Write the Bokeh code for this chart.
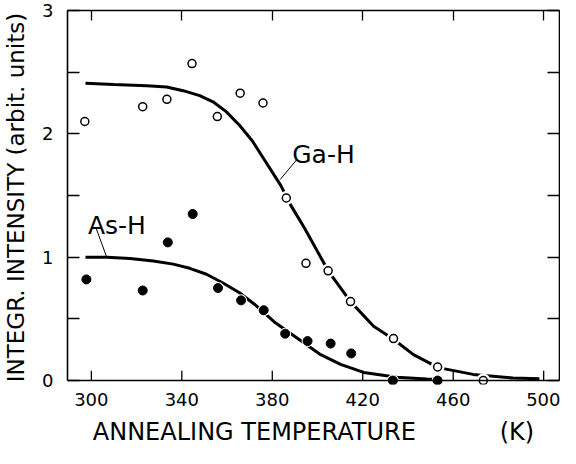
from bokeh.plotting import figure
from bokeh.models import LinearAxis, FixedTicker, Range1d, Label, Span
from bokeh.embed import file_html
from bokeh.resources import INLINE

FONT = "DejaVu Sans"

# ---- data ----
x_ticks = [300, 340, 380, 420, 460, 500]
y_ticks = [0, 1, 2, 3]
y_minor_ticks = [0.5, 1.5, 2.5]

ga_T = [297.1, 322.7, 333.4, 344.5, 355.7, 365.8, 375.9, 386.2, 394.9, 404.7, 414.6, 433.6, 453.1, 473.3]
ga_I = [2.10, 2.22, 2.28, 2.57, 2.14, 2.33, 2.25, 1.48, 0.95, 0.89, 0.64, 0.34, 0.11, 0.0]

as_T = [297.8, 322.7, 333.8, 344.8, 356.0, 366.2, 376.2, 385.7, 395.6, 405.8, 414.9, 433.3, 453.1]
as_I = [0.82, 0.73, 1.12, 1.35, 0.75, 0.65, 0.57, 0.38, 0.32, 0.30, 0.22, 0.0, 0.0]

ga_fit_T = [297.4, 309.8, 324.5, 333.3, 340.6, 347.9, 353.8, 359.6, 365.5, 371.3, 377.2, 383.8,
            388.2, 394.1, 401.4, 404.7, 414.6, 424.8, 433.6, 442.4, 453.4, 468.8, 486.4, 498.1]
ga_fit_I = [2.41, 2.40, 2.39, 2.38, 2.35, 2.31, 2.26, 2.18, 2.07, 1.94, 1.77, 1.58,
            1.42, 1.24, 1.00, 0.89, 0.64, 0.44, 0.335, 0.21, 0.105, 0.05, 0.02, 0.015]

as_fit_T = [297.4, 306.9, 317.1, 327.4, 336.2, 343.5, 350.9, 358.2, 365.5, 372.1, 380.9,
            391.1, 401.4, 410.2, 420.4, 435.1, 448.3, 454.2]
as_fit_I = [1.0, 1.0, 0.99, 0.97, 0.944, 0.91, 0.862, 0.791, 0.712, 0.619, 0.475,
            0.343, 0.210, 0.131, 0.066, 0.026, 0.013, 0.008]

label_text = ["Ga-H", "As-H"]
label_x = [388.8, 298.5]
label_y = [1.83, 1.26]
leader_x0 = [390.8, 302.2]
leader_y0 = [1.79, 1.23]
leader_x1 = [383.5, 306.6]
leader_y1 = [1.63, 1.01]

# the wide gap before "(K)" is kept with non-breaking spaces
x_title = "ANNEALING TEMPERATURE " + "\u00a0" * 10 + "(K)"
y_title = "INTEGR. INTENSITY (arbit. units)"

# ---- figure ----
p = figure(width=560, height=448,
           x_range=Range1d(289.45, 507.0), y_range=Range1d(-0.032, 3.0),
           output_backend="svg", toolbar_location=None)
p.min_border_left = 64
p.min_border_right = 1
p.min_border_top = 10
p.min_border_bottom = 61
p.outline_line_color = None
p.xgrid.visible = False
p.ygrid.visible = False
p.background_fill_color = "white"
p.border_fill_color = "white"

LW = 1.6
TICK_LEN_X = 0.08   # x-tick length in data units of the y axis (~10 px)

def blank_labels(ax, ticks):
    ax.major_label_overrides = {t: "" for t in ticks}
    ax.major_label_text_color = None
    ax.major_label_standoff = 0

# bottom axis: labels and title only (line and ticks drawn at y = 0 below)
xb = p.xaxis[0]
xb.ticker = FixedTicker(ticks=x_ticks)
xb.axis_line_color = None
xb.major_tick_line_color = None
xb.minor_tick_line_color = None
xb.major_tick_in = 0
xb.major_tick_out = 0
xb.major_label_text_font = FONT
xb.major_label_text_font_size = "18px"
xb.major_label_text_color = "black"
xb.major_label_standoff = 8
xb.axis_label = x_title
xb.axis_label_text_font = FONT
xb.axis_label_text_font_size = "24px"
xb.axis_label_text_font_style = "normal"
xb.axis_label_text_color = "black"
xb.axis_label_standoff = 9

def style_y(ax):
    ax.ticker = FixedTicker(ticks=y_ticks, minor_ticks=y_minor_ticks)
    ax.bounds = (0, 3)
    ax.axis_line_width = LW
    ax.axis_line_color = "black"
    ax.major_tick_in = 12
    ax.major_tick_out = 0
    ax.minor_tick_in = 12
    ax.minor_tick_out = 0
    ax.major_tick_line_width = 1.3
    ax.minor_tick_line_width = 1.3
    ax.minor_tick_line_color = "black"

yl = p.yaxis[0]
style_y(yl)
yl.major_label_text_font = FONT
yl.major_label_text_font_size = "18px"
yl.major_label_text_color = "black"
yl.major_label_standoff = 14
yl.axis_label = y_title
yl.axis_label_text_font = FONT
yl.axis_label_text_font_size = "23px"
yl.axis_label_text_font_style = "normal"
yl.axis_label_text_color = "black"
yl.axis_label_standoff = 10

yr = LinearAxis()
style_y(yr)
blank_labels(yr, y_ticks)
p.add_layout(yr, "right")

xt = LinearAxis()
xt.ticker = FixedTicker(ticks=x_ticks)
xt.axis_line_width = LW
xt.axis_line_color = "black"
xt.major_tick_in = 10
xt.major_tick_out = 0
xt.major_tick_line_width = 1.3
xt.minor_tick_line_color = None
blank_labels(xt, x_ticks)
p.add_layout(xt, "above")

# bottom frame line at y = 0 and the upward x ticks
p.add_layout(Span(location=0, dimension="width", line_color="black", line_width=LW))
p.segment(x0=x_ticks, y0=[0] * len(x_ticks), x1=x_ticks, y1=[TICK_LEN_X] * len(x_ticks),
          line_color="black", line_width=1.3)

# ---- curves ----
p.line(ga_fit_T, ga_fit_I, line_width=3, line_color="black")
p.line(as_fit_T, as_fit_I, line_width=3, line_color="black")

# white halos to break the curves around the data points
p.scatter(ga_T, ga_I, size=14, marker="circle", fill_color="white", line_color=None)
p.scatter(as_T, as_I, size=12, marker="circle", fill_color="white", line_color=None)

# data points
p.scatter(ga_T, ga_I, size=8, marker="circle", fill_color="white",
          line_color="black", line_width=1.5)
p.scatter(as_T, as_I, size=9, marker="circle", fill_color="black", line_color="black")

# leader lines
p.segment(x0=leader_x0, y0=leader_y0, x1=leader_x1, y1=leader_y1,
          line_color="black", line_width=1)

for t, x, y in zip(label_text, label_x, label_y):
    p.add_layout(Label(x=x, y=y, text=t, text_font=FONT, text_font_size="25px",
                       text_color="black", text_baseline="alphabetic", text_align="left"))

open("out.html", "w").write(file_html(p, INLINE))
